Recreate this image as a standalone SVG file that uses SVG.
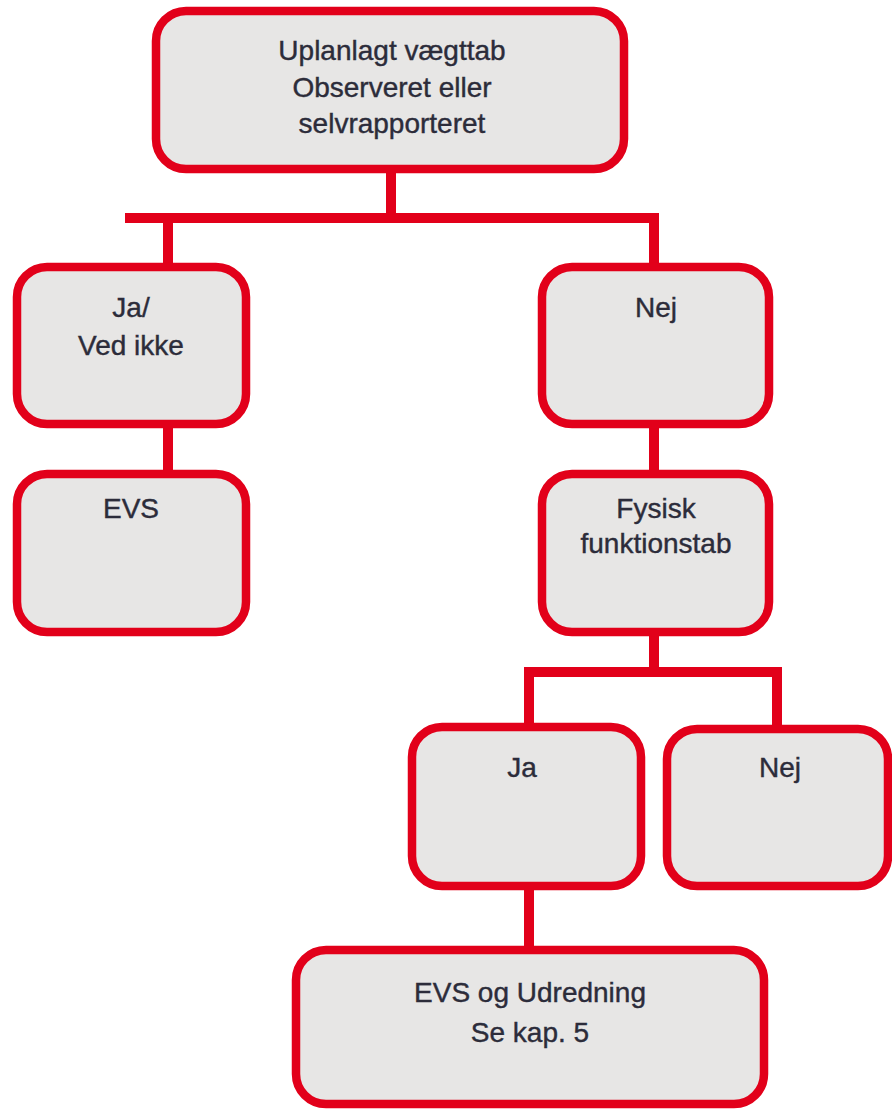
<svg xmlns="http://www.w3.org/2000/svg" width="892" height="1110" viewBox="0 0 892 1110">
<style>
.box{fill:#e7e6e5;stroke:#e2001a;stroke-width:8.5}
.ln{stroke:#e2001a;stroke-width:10;fill:none;stroke-linecap:butt}
text{font-family:"Liberation Sans",Arial,sans-serif;font-size:28px;fill:#2c2c3a;stroke:#2c2c3a;stroke-width:0.4;text-anchor:middle}
</style>
<rect width="892" height="1110" fill="#ffffff"/>
<g id="connectors">
<path class="ln" d="M391 169V218M125 218H659M168 218V267M654 218V267"/>
<path class="ln" d="M168 424V474M654 424V474M654 632V672M524 672H782M529 672V727M777 672V729"/>
<path class="ln" d="M529 886V950"/>
</g>
<g id="n-top">
<rect class="box" x="156" y="11" width="468" height="158" rx="30"/>
<text x="392" y="60">Uplanlagt vægttab</text>
<text x="392" y="97">Observeret eller</text>
<text x="392" y="133">selvrapporteret</text>
</g>
<g id="n-ja1">
<rect class="box" x="17" y="267" width="229" height="157" rx="30"/>
<text x="131" y="317">Ja/</text>
<text x="131" y="355">Ved ikke</text>
</g>
<g id="n-nej1">
<rect class="box" x="542" y="267" width="227" height="157" rx="30"/>
<text x="656" y="317">Nej</text>
</g>
<g id="n-evs">
<rect class="box" x="17" y="474" width="229" height="158" rx="30"/>
<text x="131" y="518">EVS</text>
</g>
<g id="n-fysisk">
<rect class="box" x="542" y="474" width="227" height="158" rx="30"/>
<text x="656" y="518">Fysisk</text>
<text x="656" y="553">funktionstab</text>
</g>
<g id="n-ja2">
<rect class="box" x="412" y="727" width="229" height="159" rx="30"/>
<text x="522" y="777">Ja</text>
</g>
<g id="n-nej2">
<rect class="box" x="667" y="729" width="221" height="157" rx="30"/>
<text x="780" y="777">Nej</text>
</g>
<g id="n-evs-udredning">
<rect class="box" x="296" y="950" width="468" height="154" rx="30"/>
<text x="530" y="1002">EVS og Udredning</text>
<text x="530" y="1042">Se kap. 5</text>
</g>
</svg>
